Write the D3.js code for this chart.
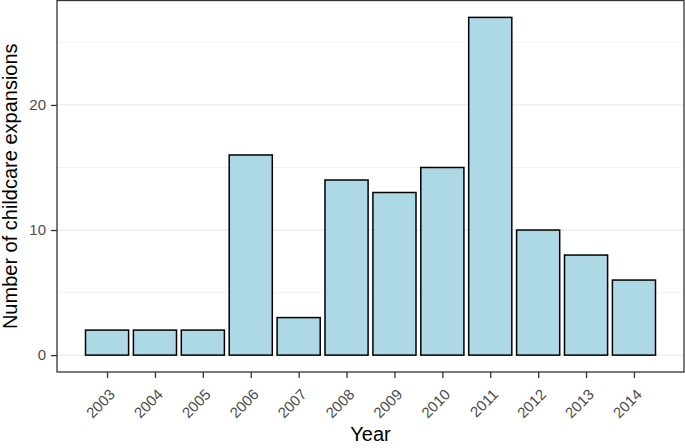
<!DOCTYPE html>
<html>
<head>
<meta charset="utf-8">
<script src="https://cdn.jsdelivr.net/npm/d3@7"></script>
<style>
  body { margin: 0; background: #fff; }
  text { font-family: "Liberation Sans", Arial, sans-serif; }
</style>
</head>
<body>
<script>

// data
var years = [2003, 2004, 2005, 2006, 2007, 2008, 2009, 2010, 2011, 2012, 2013, 2014];
var expansions = [2, 2, 2, 16, 3, 14, 13, 15, 27, 10, 8, 6];
var yTicks = [0, 10, 20];
var yMinor = [5, 15, 25];

var W = 685, H = 448;
var margin = {top: 0.5, right: 1, bottom: 76, left: 57};
var width = W - margin.left - margin.right;
var height = H - margin.top - margin.bottom;
var barWidth = 0.9;

// continuous x like ggplot, 5% expansion around bar extents
var xLo = d3.min(years) - barWidth / 2, xHi = d3.max(years) + barWidth / 2;
var xPad = (xHi - xLo) * 0.05;
var xScale = d3.scaleLinear().domain([xLo - xPad, xHi + xPad]).range([0, width]);

var yMax = d3.max(expansions);
var yScale = d3.scaleLinear().domain([-yMax * 0.05, yMax * 1.05]).range([height, 0]);

var svg = d3.select("body").append("svg")
    .attr("width", W)
    .attr("height", H);

var g = svg.append("g")
    .attr("transform", "translate(" + margin.left + "," + margin.top + ")");

// grid lines
g.selectAll(".minor").data(yMinor).enter().append("line")
    .attr("x1", 0).attr("x2", width)
    .attr("y1", function(d) { return yScale(d); })
    .attr("y2", function(d) { return yScale(d); })
    .attr("stroke", "#ebebeb").attr("stroke-width", 0.6);

g.selectAll(".major").data(yTicks).enter().append("line")
    .attr("x1", 0).attr("x2", width)
    .attr("y1", function(d) { return yScale(d); })
    .attr("y2", function(d) { return yScale(d); })
    .attr("stroke", "#ebebeb").attr("stroke-width", 1.2);

// bars
g.selectAll("rect.bar").data(years).enter().append("rect")
    .attr("class", "bar")
    .attr("x", function(d) { return xScale(d - barWidth / 2); })
    .attr("width", xScale(barWidth) - xScale(0))
    .attr("y", function(d, i) { return yScale(expansions[i]); })
    .attr("height", function(d, i) { return yScale(0) - yScale(expansions[i]); })
    .attr("fill", "#add8e6")
    .attr("stroke", "#000")
    .attr("stroke-width", 1.5);

// panel border
g.append("rect")
    .attr("x", 0).attr("y", 0)
    .attr("width", width).attr("height", height)
    .attr("fill", "none")
    .attr("stroke", "#333333")
    .attr("stroke-width", 1.3);

// axes
var xAxis = d3.axisBottom(xScale).tickValues(years).tickFormat(d3.format("d"))
    .tickSize(6).tickPadding(4);
var yAxis = d3.axisLeft(yScale).tickValues(yTicks).tickSize(6).tickPadding(5);

var gx = g.append("g")
    .attr("transform", "translate(0," + height + ")")
    .call(xAxis);
gx.select(".domain").remove();
gx.selectAll(".tick line").attr("stroke", "#333333").attr("stroke-width", 1.3);
gx.selectAll(".tick text")
    .attr("fill", "#4d4d4d")
    .attr("font-size", 15)
    .attr("text-anchor", "end")
    .attr("x", 0).attr("y", 0).attr("dy", "0.7em")
    .attr("transform", "translate(1,16) rotate(-45)");

var gy = g.append("g").call(yAxis);
gy.select(".domain").remove();
gy.selectAll(".tick line").attr("stroke", "#333333").attr("stroke-width", 1.3);
gy.selectAll(".tick text")
    .attr("fill", "#4d4d4d")
    .attr("font-size", 15);

// axis titles
svg.append("text")
    .attr("x", margin.left + width / 2)
    .attr("y", 441)
    .attr("text-anchor", "middle")
    .attr("font-size", 20)
    .attr("fill", "#000")
    .text("Year");

svg.append("text")
    .attr("transform", "translate(17," + (margin.top + height / 2) + ") rotate(-90)")
    .attr("text-anchor", "middle")
    .attr("font-size", 20)
    .attr("fill", "#000")
    .text("Number of childcare expansions");

</script>
</body>
</html>
